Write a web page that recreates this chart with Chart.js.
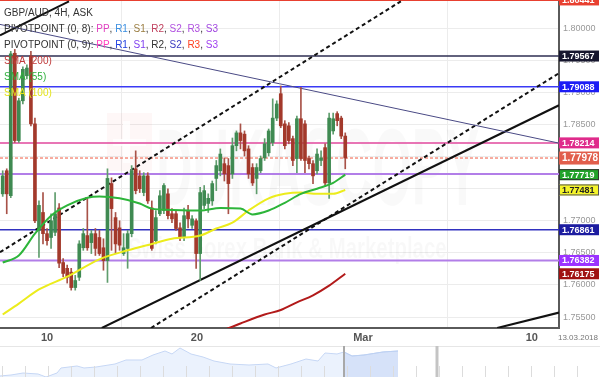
<!DOCTYPE html>
<html>
<head>
<meta charset="utf-8">
<script src="https://cdn.jsdelivr.net/npm/chart.js@4.4.1/dist/chart.umd.min.js"></script>
<style>
  html, body { margin: 0; padding: 0; background: #fff; }
  #wrap { position: relative; width: 600px; height: 377px; overflow: hidden; }
  #mainChart { position: absolute; left: 0; top: 0; }
  #navChart { position: absolute; left: 0; top: 345px; }
</style>
</head>
<body>
<div id="wrap">
  <canvas id="mainChart" width="600" height="345"></canvas>
  <canvas id="navChart" width="600" height="32"></canvas>
</div>
<script>
// GBP/AUD 4H candles (index 0 = first visible candle)
const candleOpen = [
  1.7742, 1.7778, 1.7739, 1.7961, 1.7825, 1.7887, 1.7926, 1.7957, 1.7851, 1.7685,
  1.7713, 1.7680, 1.7674, 1.7682, 1.7720, 1.7635, 1.7626, 1.7620, 1.7596, 1.7612,
  1.7658, 1.7677, 1.7666, 1.7680, 1.7674, 1.7658, 1.7638, 1.7758, 1.7705, 1.7689,
  1.7649, 1.7657, 1.7680, 1.7781, 1.7770, 1.7744, 1.7770, 1.7720, 1.7669, 1.7711,
  1.7716, 1.7742, 1.7711, 1.7711, 1.7689, 1.7674, 1.7716, 1.7693, 1.7700, 1.7649,
  1.7724, 1.7727, 1.7731, 1.7766, 1.7778, 1.7789, 1.7786, 1.7773, 1.7817, 1.7837,
  1.7835, 1.7812, 1.7783, 1.7766, 1.7778, 1.7798, 1.7806, 1.7822, 1.7860, 1.7898,
  1.7851, 1.7848, 1.7828, 1.7797, 1.7859, 1.7851, 1.7797, 1.7789, 1.7778, 1.7794,
  1.7814, 1.7759, 1.7840, 1.7867, 1.7860, 1.7832
];
const candleHigh = [
  1.7778, 1.7781, 1.7964, 1.7967, 1.7891, 1.7940, 1.7943, 1.7964, 1.7860, 1.7731,
  1.7744, 1.7688, 1.7711, 1.7744, 1.7727, 1.7641, 1.7631, 1.7626, 1.7615, 1.7669,
  1.7688, 1.7736, 1.7685, 1.7688, 1.7685, 1.7672, 1.7781, 1.7767, 1.7713, 1.7700,
  1.7680, 1.7685, 1.7786, 1.7809, 1.7778, 1.7775, 1.7775, 1.7731, 1.7716, 1.7747,
  1.7758, 1.7750, 1.7719, 1.7716, 1.7697, 1.7720, 1.7724, 1.7708, 1.7703, 1.7752,
  1.7755, 1.7742, 1.7762, 1.7794, 1.7812, 1.7798, 1.7797, 1.7829, 1.7840, 1.7851,
  1.7840, 1.7817, 1.7789, 1.7789, 1.7801, 1.7828, 1.7843, 1.7890, 1.7887, 1.7910,
  1.7856, 1.7853, 1.7832, 1.7863, 1.7908, 1.7856, 1.7801, 1.7794, 1.7812, 1.7809,
  1.7820, 1.7868, 1.7868, 1.7870, 1.7863, 1.7837
];
const candleLow = [
  1.7738, 1.7711, 1.7736, 1.7822, 1.7822, 1.7882, 1.7921, 1.7848, 1.7697, 1.7643,
  1.7664, 1.7662, 1.7657, 1.7677, 1.7627, 1.7613, 1.7603, 1.7592, 1.7592, 1.7607,
  1.7654, 1.7654, 1.7649, 1.7646, 1.7646, 1.7623, 1.7604, 1.7654, 1.7649, 1.7654,
  1.7646, 1.7626, 1.7675, 1.7742, 1.7744, 1.7739, 1.7727, 1.7654, 1.7664, 1.7708,
  1.7711, 1.7703, 1.7697, 1.7685, 1.7669, 1.7669, 1.7689, 1.7688, 1.7626, 1.7607,
  1.7719, 1.7713, 1.7724, 1.7747, 1.7770, 1.7762, 1.7711, 1.7766, 1.7809, 1.7812,
  1.7801, 1.7766, 1.7755, 1.7742, 1.7775, 1.7794, 1.7801, 1.7817, 1.7856, 1.7845,
  1.7812, 1.7820, 1.7786, 1.7775, 1.7794, 1.7775, 1.7781, 1.7758, 1.7773, 1.7786,
  1.7755, 1.7735, 1.7835, 1.7848, 1.7828, 1.7781
];
const candleClose = [
  1.7770, 1.7742, 1.7960, 1.7825, 1.7887, 1.7936, 1.7938, 1.7851, 1.7700, 1.7724,
  1.7680, 1.7669, 1.7700, 1.7711, 1.7634, 1.7618, 1.7612, 1.7596, 1.7607, 1.7664,
  1.7680, 1.7658, 1.7680, 1.7657, 1.7649, 1.7638, 1.7766, 1.7719, 1.7664, 1.7662,
  1.7658, 1.7680, 1.7778, 1.7747, 1.7750, 1.7770, 1.7731, 1.7657, 1.7705, 1.7739,
  1.7755, 1.7708, 1.7703, 1.7688, 1.7674, 1.7708, 1.7703, 1.7703, 1.7649, 1.7744,
  1.7747, 1.7735, 1.7758, 1.7786, 1.7804, 1.7773, 1.7758, 1.7817, 1.7837, 1.7825,
  1.7809, 1.7773, 1.7759, 1.7783, 1.7797, 1.7820, 1.7840, 1.7860, 1.7882, 1.7848,
  1.7817, 1.7825, 1.7794, 1.7859, 1.7797, 1.7794, 1.7789, 1.7770, 1.7804, 1.7798,
  1.7759, 1.7860, 1.7859, 1.7856, 1.7832, 1.77978
];

// moving averages, read at some candle indexes
const sma55Idx = [0, 4, 8, 12, 16, 21, 24, 29, 34, 37, 42, 49, 54, 59, 62, 66, 70, 74, 78, 82, 85];
const sma55Val = [1.7635, 1.7646, 1.7680, 1.7708, 1.7724, 1.7736, 1.7738, 1.7735, 1.7727, 1.7719,
                  1.7717, 1.7716, 1.7720, 1.7719, 1.7710, 1.7716, 1.7728, 1.7742, 1.7750, 1.7759, 1.77719];
const sma100Idx = [0, 4, 9, 16, 24, 31, 37, 42, 49, 53, 57, 61, 66, 70, 74, 78, 82, 85];
const sma100Val = [1.7554, 1.7571, 1.7593, 1.7613, 1.7640, 1.7654, 1.7664, 1.7672, 1.7677, 1.7688,
                   1.7697, 1.7716, 1.7735, 1.7742, 1.7744, 1.7742, 1.7742, 1.77481];
const sma200Idx = [55, 59, 65, 69, 73, 77, 81, 85];
const sma200Val = [1.7530, 1.7540, 1.7554, 1.7561, 1.7573, 1.7584, 1.7599, 1.76175];

// horizontal levels (pivot points + last price)
const levelValues = [1.80441, 1.79567, 1.79088, 1.78214, 1.77978, 1.7773, 1.76861, 1.76382];

// trend lines: start index/price -> end index/price
const trendX1 = [-0.67, -0.67, 36.8, 24.6, -0.67, 122.7];
const trendY1 = [1.8006, 1.7651, 1.7533, 1.7533, 1.7989, 1.7533];
const trendX2 = [138.04, 98.8, 138.04, 138.04, 16.45, 138.04];
const trendY2 = [1.7821, 1.8042, 1.7930, 1.7880, 1.8042, 1.7557];

// price tags on the right axis
const tagValues = [1.80441, 1.79567, 1.79088, 1.78214, 1.77978, 1.77719, 1.77481, 1.76861, 1.76382, 1.76175];

// axes
const dayTickPos = [11, 48.2, 89.4, 131.3];
const dayTickLabels = ['10', '20', 'Mar', '10'];
const priceTicks = [1.755, 1.760, 1.765, 1.770, 1.775, 1.780, 1.785, 1.790, 1.795, 1.800];

// navigator overview
const navDay = [0, 2.2, 4.6, 7.6, 9.2, 11.4, 12.2, 15.4, 16.8, 19.2, 23, 25.2, 28.4, 30.6, 33, 34.4, 36,
                38.2, 40.6, 42.8, 46, 49.8, 53.6, 55.2, 58.2, 61.2, 63.6, 65, 67.4, 68.8, 70.4, 72.8, 76.6, 79.6];
const navValue = [1.7036, 1.7071, 1.7142, 1.7107, 1.7000, 1.7142, 1.7320, 1.7391, 1.7320, 1.7355, 1.7462,
                  1.7604, 1.7604, 1.7781, 1.7923, 1.7817, 1.8030, 1.7817, 1.7710, 1.7568, 1.7462, 1.7426,
                  1.7462, 1.7320, 1.7462, 1.7639, 1.7568, 1.7852, 1.7817, 1.7888, 1.7746, 1.7781, 1.7888, 1.7923];
const navWindow = [68.8, 87.4];

// ---- styles ----
const xAxisMin = -0.67, xAxisMax = 138.04;
const upColor = '#3f8a52', downColor = '#a3392b';
const upWick = '#5f9d6d', downWick = '#a85248';
const levelStyles = [
  { color: '#e84030', width: 2 },
  { color: '#2e2e52', width: 1.5 },
  { color: '#3a3af5', width: 1.5 },
  { color: '#e0479d', width: 1.5 },
  { color: '#f05a40', width: 1, dash: [3, 2] },
  { color: '#b27ee8', width: 2 },
  { color: '#3232c0', width: 1.5 },
  { color: '#b27ee8', width: 2 }
];
const trendStyles = [
  { color: '#4a4a85', width: 1 },
  { color: '#111', width: 2, dash: [4, 3] },
  { color: '#111', width: 2, dash: [4, 3] },
  { color: '#111', width: 2 },
  { color: '#111', width: 2 },
  { color: '#111', width: 2 }
];
const tagStyles = [
  { bg: '#e84030', fg: '#fff' },
  { bg: '#16162e', fg: '#fff' },
  { bg: '#1c1cf5', fg: '#fff' },
  { bg: '#df2b8b', fg: '#fff' },
  { bg: '#e15e4c', fg: '#fff', big: true },
  { bg: '#22a32a', fg: '#fff', border: '#333' },
  { bg: '#f5f52a', fg: '#222', border: '#555' },
  { bg: '#1c1ca0', fg: '#fff' },
  { bg: '#9b32ff', fg: '#fff' },
  { bg: '#a01212', fg: '#fff' }
];
const legendRows = [
  [['GBP/AUD, 4H, ASK', '#333']],
  [['PIVOTPOINT (0, 8): ', '#333'], ['PP', '#e040c0'], [', ', '#333'], ['R1', '#3a8ee0'], [', ', '#333'],
   ['S1', '#9a7d40'], [', ', '#333'], ['R2', '#c0405e'], [', ', '#333'], ['S2', '#b050e0'], [', ', '#333'],
   ['R3', '#b050e0'], [', ', '#333'], ['S3', '#a044e0']],
  [['PIVOTPOINT (0, 9): ', '#333'], ['PP', '#ff40c0'], [', ', '#333'], ['R1', '#2040e0'], [', ', '#333'],
   ['S1', '#8040f0'], [', ', '#333'], ['R2', '#333'], [', ', '#333'], ['S2', '#3a3ac0'], [', ', '#333'],
   ['R3', '#ff4020'], [', ', '#333'], ['S3', '#a040f0']],
  [['SMA (200)', '#c03a3a']],
  [['SMA (55)', '#2fb03c']],
  [['SMA (100)', '#e4e41c']]
];

// ---- datasets ----
const isUp = candleOpen.map((o, i) => candleClose[i] >= o);
const datasets = [];

levelValues.forEach((v, k) => {
  const s = levelStyles[k];
  datasets.push({
    type: 'line', order: 10,
    data: [{ x: xAxisMin, y: v }, { x: xAxisMax, y: v }],
    borderColor: s.color, borderWidth: s.width, borderDash: s.dash || [],
    pointRadius: 0, fill: false
  });
});

trendX1.forEach((x1, k) => {
  const s = trendStyles[k];
  datasets.push({
    type: 'line', order: 8,
    data: [{ x: x1, y: trendY1[k] }, { x: trendX2[k], y: trendY2[k] }],
    borderColor: s.color, borderWidth: s.width, borderDash: s.dash || [],
    pointRadius: 0, fill: false
  });
});

datasets.push({
  type: 'bar', order: 5, grouped: false,
  data: candleOpen.map((o, i) => ({ x: i, y: [candleLow[i], candleHigh[i]] })),
  backgroundColor: isUp.map(u => u ? upWick : downWick),
  barThickness: 1, borderWidth: 0
});
datasets.push({
  type: 'bar', order: 4, grouped: false,
  data: candleOpen.map((o, i) => ({ x: i, y: [o, candleClose[i]] })),
  backgroundColor: isUp.map(u => u ? upColor : downColor),
  barThickness: 3, borderWidth: 0
});

function smaSet(idx, val, color) {
  return {
    type: 'line', order: 1,
    data: idx.map((x, k) => ({ x: x, y: val[k] })),
    borderColor: color, borderWidth: 2, pointRadius: 0, fill: false,
    cubicInterpolationMode: 'monotone'
  };
}
datasets.push(smaSet(sma55Idx, sma55Val, '#2db53a'));
datasets.push(smaSet(sma100Idx, sma100Val, '#ecec1c'));
datasets.push(smaSet(sma200Idx, sma200Val, '#b21a1a'));

// faint broker watermark behind the candles
const watermark = {
  id: 'watermark',
  beforeDatasetsDraw(chart) {
    const c = chart.ctx;
    c.save();
    c.fillStyle = 'rgba(225,60,60,0.045)';
    c.fillRect(107, 113, 45, 58);
    c.fillStyle = 'rgba(255,255,255,0.8)';
    c.fillRect(123, 121, 7, 42);
    c.fillRect(113, 139, 33, 7);
    c.fillStyle = 'rgba(0,0,0,0.022)';
    c.font = 'bold 110px Arial, "Liberation Sans"';
    c.translate(156, 205);
    c.scale(0.46, 1);
    c.fillText('DUKASCOPY', 0, 0);
    c.restore();
    c.save();
    c.fillStyle = 'rgba(0,0,0,0.028)';
    c.font = 'bold 30px Arial, "Liberation Sans"';
    c.translate(128, 258);
    c.scale(0.68, 1);
    c.fillText('Swiss Forex Bank & Marketplace', 0, 0);
    c.restore();
  }
};

// legend, right-hand price tags and date stamp
const overlay = {
  id: 'overlay',
  afterDraw(chart) {
    const c = chart.ctx;
    const yScale = chart.scales.y;
    const right = chart.chartArea.right;
    c.save();
    c.textBaseline = 'middle';
    c.font = '10px Arial, "Liberation Sans"';
    legendRows.forEach((row, r) => {
      let x = 4;
      const y = 13 + r * 16;
      row.forEach(part => {
        c.fillStyle = part[1];
        c.fillText(part[0], x, y);
        x += c.measureText(part[0]).width;
      });
    });

    tagValues.forEach((v, k) => {
      const s = tagStyles[k];
      const y = yScale.getPixelForValue(v);
      const h = s.big ? 13 : 11;
      c.fillStyle = s.bg;
      c.fillRect(right, y - h / 2, 600 - right - 1, h);
      if (s.border) {
        c.strokeStyle = s.border;
        c.lineWidth = 1;
        c.strokeRect(right + 0.5, y - h / 2 + 0.5, 600 - right - 2, h - 1);
      }
      c.fillStyle = s.fg;
      c.font = (s.big ? 'bold 10px ' : 'bold 9px ') + 'Arial, "Liberation Sans"';
      c.textAlign = 'left';
      c.fillText(v.toFixed(5), right + 3, y + 0.5);
    });

    c.fillStyle = '#777';
    c.font = '8px Arial, "Liberation Sans"';
    c.textAlign = 'right';
    c.fillText('13.03.2018', 598, chart.chartArea.bottom + 10);
    c.restore();
  }
};

const mainChart = new Chart(document.getElementById('mainChart').getContext('2d'), {
  type: 'bar',
  data: { datasets: datasets },
  options: {
    responsive: false,
    animation: false,
    layout: { padding: 0 },
    plugins: { legend: { display: false }, tooltip: { enabled: false } },
    scales: {
      x: {
        type: 'linear', min: xAxisMin, max: xAxisMax, offset: false,
        afterBuildTicks: s => { s.ticks = dayTickPos.map(v => ({ value: v })); },
        afterFit: s => { s.height = 17; s.paddingLeft = 0; s.paddingRight = 0; },
        grid: { color: '#ececec', drawTicks: false },
        border: { display: true, color: '#5a5a5a', width: 2 },
        ticks: {
          autoSkip: false, maxRotation: 0, padding: 3,
          color: '#555', font: { size: 11, weight: 'bold', family: 'Arial, "Liberation Sans"' },
          callback: (val, idx) => dayTickLabels[idx]
        }
      },
      y: {
        position: 'right', min: 1.7533, max: 1.8044,
        afterBuildTicks: s => { s.ticks = priceTicks.map(v => ({ value: v })); },
        afterFit: s => { s.width = 41; s.paddingTop = 0; s.paddingBottom = 0; },
        grid: { color: '#ececec', drawTicks: false },
        border: { display: true, color: '#5a5a5a', width: 2 },
        ticks: {
          autoSkip: false, padding: 4, color: '#999',
          font: { size: 9, family: 'Arial, "Liberation Sans"' },
          callback: v => v.toFixed(5)
        }
      }
    }
  },
  plugins: [watermark, overlay]
});

// navigator strip under the chart
const navDecor = {
  id: 'navDecor',
  afterDatasetsDraw(chart) {
    const c = chart.ctx;
    const xs = chart.scales.x;
    c.save();
    c.strokeStyle = '#e6e6e6';
    c.lineWidth = 1;
    c.beginPath(); c.moveTo(0, 1.5); c.lineTo(600, 1.5); c.stroke();
    c.strokeStyle = '#dcdcdc';
    for (let d = 0.4; d < 120; d += 4.6) {
      const x = Math.round(xs.getPixelForValue(d)) + 0.5;
      c.beginPath(); c.moveTo(x, 21); c.lineTo(x, 32); c.stroke();
    }
    c.strokeStyle = '#a8a8a8';
    c.lineWidth = 2;
    let x = xs.getPixelForValue(navWindow[0]);
    c.beginPath(); c.moveTo(x, 1); c.lineTo(x, 32); c.stroke();
    c.strokeStyle = '#c4c4c4';
    c.lineWidth = 3;
    x = xs.getPixelForValue(navWindow[1]);
    c.beginPath(); c.moveTo(x, 1); c.lineTo(x, 32); c.stroke();
    c.restore();
  }
};

const navPoints = navDay.map((d, k) => ({ x: d, y: navValue[k] }));
new Chart(document.getElementById('navChart').getContext('2d'), {
  type: 'line',
  data: {
    datasets: [
      {
        data: navPoints.filter(p => p.x >= navWindow[0]),
        fill: 'start', backgroundColor: 'rgba(196,214,246,0.55)',
        borderColor: '#bcd0f2', borderWidth: 1, pointRadius: 0
      },
      {
        data: navPoints,
        fill: 'start', backgroundColor: 'rgba(222,233,252,0.6)',
        borderColor: '#c6d7f5', borderWidth: 1, pointRadius: 0
      }
    ]
  },
  options: {
    responsive: false,
    animation: false,
    layout: { padding: 0 },
    plugins: { legend: { display: false }, tooltip: { enabled: false } },
    scales: {
      x: { type: 'linear', min: 0, max: 120, display: false },
      y: { min: 1.70, max: 1.8136, display: false }
    }
  },
  plugins: [navDecor]
});
</script>
</body>
</html>
